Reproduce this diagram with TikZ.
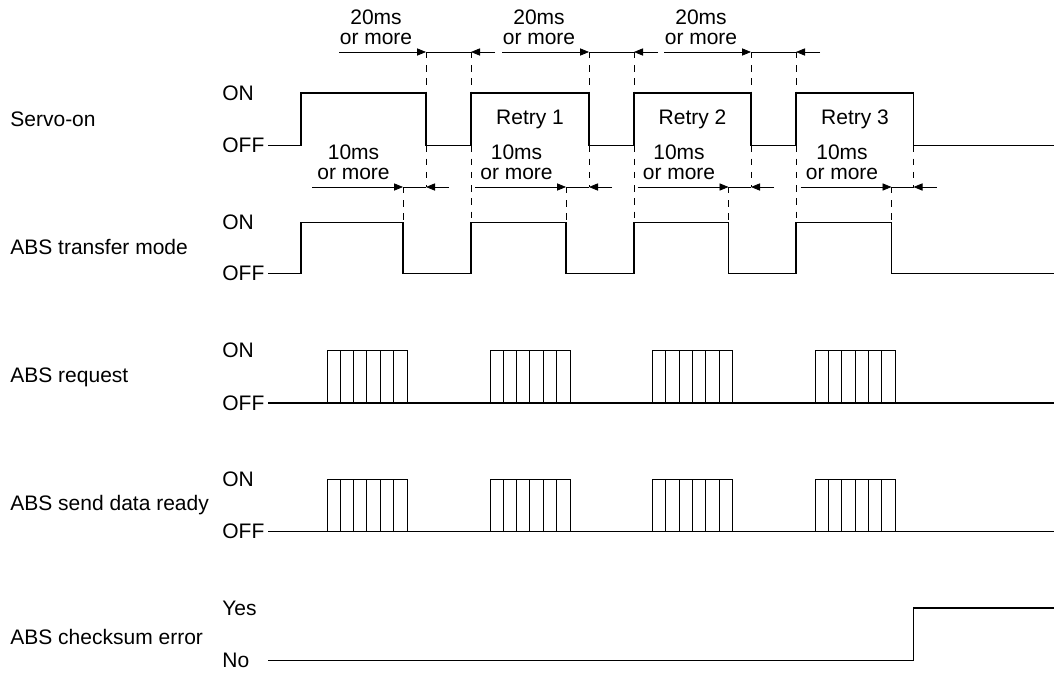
\documentclass[tikz,border=0pt]{standalone}
\usepackage{fontspec}
\setmainfont{Liberation Sans}
\usetikzlibrary{arrows.meta}
\tikzset{
  timingpicture/.style={x=0.5pt, y=-0.5pt},
  timingtext/.style={font=\fontsize{10.5}{10}\selectfont, inner sep=0pt},
  timingname/.style={timingtext, anchor=west},
  timingnote/.style={timingtext, align=center},
  timingwave/.style={line width=0.6pt},
  timingpulse/.style={line width=0.5pt},
  timingguide/.style={line width=0.4pt, dash pattern=on 3.2pt off 3.4pt},
  timingspan/.style={line width=0.4pt},
  timingarrow/.style={-{Triangle[length=4.5pt, width=3.6pt]}, line width=0.4pt}
}

\begin{document}
\begin{tikzpicture}[timingpicture]
\useasboundingbox (0,0) rectangle (1054,675);
% signal names and levels
\node[timingname] (servo) at (10,119) {Servo-on};
\node[timingname] (transfer) at (10,247) {ABS transfer mode};
\node[timingname] (request) at (10,377) {ABS request};
\node[timingname] (ready) at (10,505) {ABS send data ready};
\node[timingname] (checksum) at (10,637) {ABS checksum error};
\node[timingname] (servoon) at (222,93) {ON};
\node[timingname] (servooff) at (222,145.5) {OFF};
\node[timingname] (transferon) at (222,222.5) {ON};
\node[timingname] (transferoff) at (222,273.5) {OFF};
\node[timingname] (requeston) at (222,350) {ON};
\node[timingname] (requestoff) at (222,403) {OFF};
\node[timingname] (readyon) at (222,479) {ON};
\node[timingname] (readyoff) at (222,531.5) {OFF};
\node[timingname] (checksumyes) at (222,608) {Yes};
\node[timingname] (checksumno) at (222,660.5) {No};
\node[timingtext] (retry1) at (530,119.5) {Retry 1};
\node[timingtext] (retry2) at (692.5,119.5) {Retry 2};
\node[timingtext] (retry3) at (855,119.5) {Retry 3};

% waveforms
\draw[timingwave] (268,145.5) foreach \r/\f in {301/426,471/589,634/751,796/913.5}
  { -- (\r,145.5) -- (\r,93) -- (\f,93) -- (\f,145.5) } -- (1054,145.5);
\draw[timingwave] (268,273.5) foreach \r/\f in {301/403,471/566,634/728.5,796/891.5}
  { -- (\r,273.5) -- (\r,222.5) -- (\f,222.5) -- (\f,273.5) } -- (1054,273.5);
\draw[timingwave] (268,403) -- (1054,403);
\draw[timingwave] (268,531.5) -- (1054,531.5);
\draw[timingwave] (268,660.5) -- (913.5,660.5) -- (913.5,608) -- (1054,608);
\foreach \p in {327,490,652.5,815} {
  \foreach \lo/\hi in {403/350,531.5/479} {
    \draw[timingpulse] (\p,\lo) rectangle (\p+80,\hi);
    \foreach \k in {1,...,5}
      \draw[timingpulse] (\p+\k*13.33,\lo) -- (\p+\k*13.33,\hi);
  }
}

% 20ms off time of servo-on
\foreach \f/\r in {426/471,589/634,751/796} {
  \draw[timingguide] (\f,52) -- (\f,93) (\f,145.5) -- (\f,187);
  \draw[timingguide] (\r,52) -- (\r,93) (\r,145.5) -- (\r,222.5);
  \draw[timingarrow] (\f-87,52) -- (\f,52);
  \draw[timingspan] (\f,52) -- (\r,52);
  \draw[timingarrow] (\r+24,52) -- (\r,52);
  \node[timingnote] at (\f-50,27.5) {20ms\\or more};
}
\draw[timingguide] (913.5,145.5) -- (913.5,187);

% 10ms from transfer mode off to servo-on off
\foreach \a/\f in {403/426,566/589,728.5/751,891.5/913.5} {
  \draw[timingguide] (\a,187) -- (\a,222.5);
  \draw[timingarrow] (\a-91,187) -- (\a,187);
  \draw[timingspan] (\a,187) -- (\f,187);
  \draw[timingarrow] (\f+23,187) -- (\f,187);
  \node[timingnote] at (\a-49.5,162.5) {10ms\\or more};
}
\end{tikzpicture}
\end{document}
